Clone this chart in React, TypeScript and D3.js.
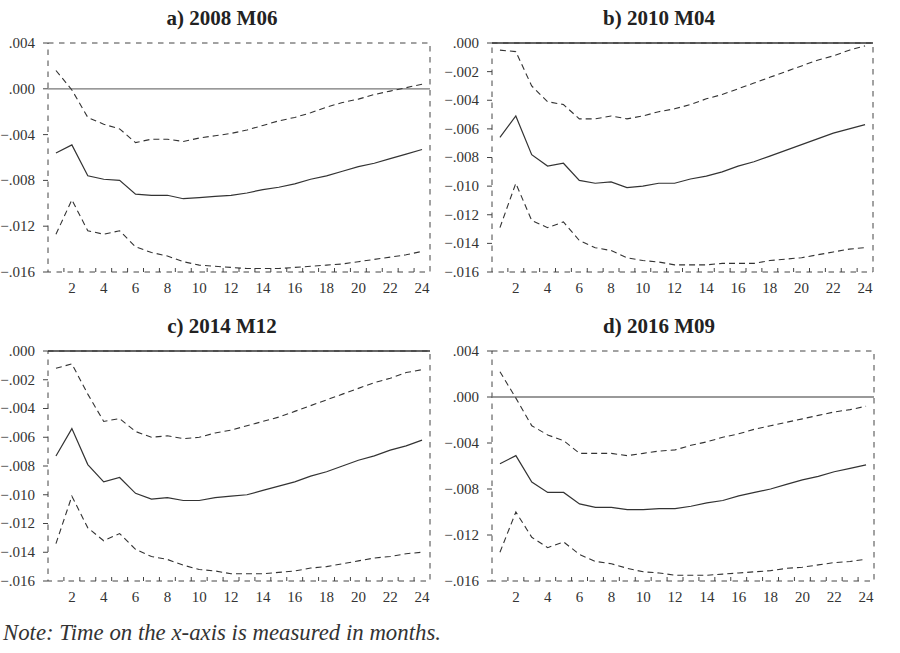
import * as d3 from 'd3';

// impulse responses, months 1..24
const months = d3.range(1, 25);

const aMid = [-0.0056, -0.0049, -0.0076, -0.0079, -0.008, -0.0092, -0.0093, -0.0093, -0.0096, -0.0095, -0.0094, -0.0093, -0.0091, -0.0088, -0.0086, -0.0083, -0.0079, -0.0076, -0.0072, -0.0068, -0.0065, -0.0061, -0.0057, -0.0053];
const aUp = [0.0016, -0.0001, -0.0025, -0.0031, -0.0035, -0.0047, -0.0044, -0.0044, -0.0046, -0.0043, -0.0041, -0.0039, -0.0036, -0.0032, -0.0028, -0.0025, -0.0021, -0.0016, -0.0012, -0.0009, -0.0005, -0.0002, 0.0001, 0.0004];
const aLo = [-0.0127, -0.0097, -0.0124, -0.0127, -0.0124, -0.0138, -0.0143, -0.0146, -0.0151, -0.0154, -0.0155, -0.0156, -0.0157, -0.0157, -0.0157, -0.0156, -0.0155, -0.0154, -0.0153, -0.0151, -0.0149, -0.0147, -0.0145, -0.0142];

const bMid = [-0.0066, -0.0051, -0.0078, -0.0086, -0.0084, -0.0096, -0.0098, -0.0097, -0.0101, -0.01, -0.0098, -0.0098, -0.0095, -0.0093, -0.009, -0.0086, -0.0083, -0.0079, -0.0075, -0.0071, -0.0067, -0.0063, -0.006, -0.0057];
const bUp = [-0.0005, -0.0006, -0.003, -0.0041, -0.0043, -0.0053, -0.0053, -0.0051, -0.0053, -0.0051, -0.0048, -0.0046, -0.0043, -0.0039, -0.0036, -0.0032, -0.0028, -0.0024, -0.002, -0.0016, -0.0012, -0.0009, -0.0005, -0.0002];
const bLo = [-0.0129, -0.0098, -0.0124, -0.0129, -0.0125, -0.0138, -0.0143, -0.0145, -0.015, -0.0152, -0.0153, -0.0155, -0.0155, -0.0155, -0.0154, -0.0154, -0.0154, -0.0152, -0.0151, -0.015, -0.0148, -0.0146, -0.0144, -0.0143];

const cMid = [-0.0073, -0.0054, -0.0079, -0.0091, -0.0088, -0.0099, -0.0103, -0.0102, -0.0104, -0.0104, -0.0102, -0.0101, -0.01, -0.0097, -0.0094, -0.0091, -0.0087, -0.0084, -0.008, -0.0076, -0.0073, -0.0069, -0.0066, -0.0062];
const cUp = [-0.0012, -0.0009, -0.003, -0.0049, -0.0047, -0.0056, -0.006, -0.0059, -0.0061, -0.006, -0.0057, -0.0055, -0.0052, -0.0049, -0.0046, -0.0042, -0.0038, -0.0034, -0.003, -0.0026, -0.0022, -0.0019, -0.0015, -0.0013];
const cLo = [-0.0134, -0.0101, -0.0123, -0.0132, -0.0127, -0.0138, -0.0143, -0.0145, -0.0149, -0.0152, -0.0153, -0.0155, -0.0155, -0.0155, -0.0154, -0.0153, -0.0151, -0.015, -0.0148, -0.0146, -0.0144, -0.0143, -0.0141, -0.014];

const dMid = [-0.0058, -0.0051, -0.0074, -0.0083, -0.0083, -0.0093, -0.0096, -0.0096, -0.0098, -0.0098, -0.0097, -0.0097, -0.0095, -0.0092, -0.009, -0.0086, -0.0083, -0.008, -0.0076, -0.0072, -0.0069, -0.0065, -0.0062, -0.0059];
const dUp = [0.0022, -0.0001, -0.0025, -0.0033, -0.0038, -0.0049, -0.0049, -0.0049, -0.0051, -0.0049, -0.0047, -0.0046, -0.0042, -0.0039, -0.0035, -0.0032, -0.0028, -0.0025, -0.0022, -0.0019, -0.0016, -0.0013, -0.0011, -0.0008];
const dLo = [-0.0135, -0.01, -0.0122, -0.0131, -0.0126, -0.0137, -0.0143, -0.0145, -0.0149, -0.0152, -0.0153, -0.0155, -0.0155, -0.0155, -0.0154, -0.0153, -0.0152, -0.0151, -0.0149, -0.0148, -0.0146, -0.0144, -0.0143, -0.0141];

const ticksWide = [0.004, 0, -0.004, -0.008, -0.012, -0.016];
const ticksNeg = [0, -0.002, -0.004, -0.006, -0.008, -0.01, -0.012, -0.014, -0.016];
const xLabels = [2, 4, 6, 8, 10, 12, 14, 16, 18, 20, 22, 24];

const titles = ['a) 2008 M06', 'b) 2010 M04', 'c) 2014 M12', 'd) 2016 M09'];

const panels = [
  { title: titles[0], mid: aMid, up: aUp, lo: aLo, ticks: ticksWide, box: [48, 430, 43, 272], tx: 222 },
  { title: titles[1], mid: bMid, up: bUp, lo: bLo, ticks: ticksNeg, box: [492, 873, 43, 272], tx: 659 },
  { title: titles[2], mid: cMid, up: cUp, lo: cLo, ticks: ticksNeg, box: [48, 430, 351, 581], tx: 222 },
  { title: titles[3], mid: dMid, up: dUp, lo: dLo, ticks: ticksWide, box: [492, 874, 351, 581], tx: 659 },
];

const fmt = (v: number) => d3.format('.3f')(v).replace('0.', '.');
const ink = '#333';
const serif = "'Liberation Serif', 'Times New Roman', 'DejaVu Serif', serif";

function Panel({ p }: { p: (typeof panels)[number] }) {
  const [left, right, top, bottom] = p.box;
  const x = d3.scaleLinear().domain([0.5, 24.5]).range([left, right]);
  const y = d3
    .scaleLinear()
    .domain([d3.min(p.ticks) as number, d3.max(p.ticks) as number])
    .range([bottom, top]);
  const line = d3
    .line<number>()
    .x((_, i) => x(months[i]))
    .y((d) => y(d));
  const halfTicks = d3.range(1.5, 24.5, 1);

  return (
    <g>
      <text x={p.tx} y={top - 18} textAnchor="middle" fontFamily={serif} fontWeight="bold" fontSize={21} fill="#222">
        {p.title}
      </text>
      <rect x={left} y={top} width={right - left} height={bottom - top} fill="none" stroke="#444" strokeWidth={1} strokeDasharray="5.5,5.5" />
      {y.domain()[1] >= 0 && (
        <line x1={left} x2={right} y1={y(0)} y2={y(0)} stroke={y(0) === top ? '#333' : '#777'} strokeWidth={1.3} />
      )}
      {p.ticks.map((t) => (
        <g key={t}>
          <line x1={left - 5} x2={left} y1={y(t)} y2={y(t)} stroke="#444" />
          <text x={left - 13} y={y(t)} dy="0.33em" textAnchor="end" fontFamily={serif} fontSize={15} fill="#333">
            {fmt(t)}
          </text>
        </g>
      ))}
      {halfTicks.map((t) => (
        <line key={t} x1={x(t)} x2={x(t)} y1={bottom} y2={bottom - 4} stroke="#444" />
      ))}
      {xLabels.map((m) => (
        <text key={m} x={x(m)} y={bottom + 21} textAnchor="middle" fontFamily={serif} fontSize={15} fill="#333">
          {m}
        </text>
      ))}
      <path d={line(p.up) ?? ''} fill="none" stroke={ink} strokeWidth={1.1} strokeDasharray="6,4" />
      <path d={line(p.lo) ?? ''} fill="none" stroke={ink} strokeWidth={1.1} strokeDasharray="6,4" />
      <path d={line(p.mid) ?? ''} fill="none" stroke={ink} strokeWidth={1.2} />
    </g>
  );
}

export default function App() {
  return (
    <svg width={900} height={653} style={{ position: 'absolute', left: 0, top: 0, background: '#fff' }}>
      {panels.map((p) => (
        <Panel key={p.title} p={p} />
      ))}
      <text x={3} y={640} fontFamily={serif} fontStyle="italic" fontSize={22.8} fill="#333">
        Note: Time on the x-axis is measured in months.
      </text>
    </svg>
  );
}
